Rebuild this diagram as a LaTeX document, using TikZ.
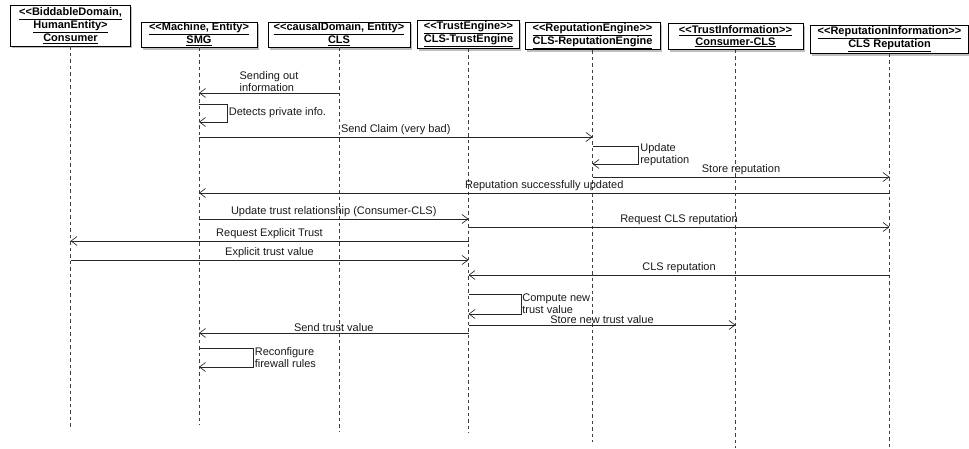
\documentclass[tikz,border=0pt]{standalone}
\usepackage{fontspec}
\setmainfont{Liberation Sans}[Ligatures=TeXOff]
\usetikzlibrary{arrows.meta,shadows}

\tikzset{
  head/.style={draw=black, line width=0.8pt, fill=white, align=center,
    font=\bfseries\fontsize{11}{11.5}\selectfont, inner sep=1pt,
    drop shadow={shadow xshift=1.5pt, shadow yshift=-2.5pt, opacity=0.5}},
  lifeline/.style={draw=black!75, line width=0.7pt, dash pattern=on 3.5pt off 3pt},
  msg/.style={draw=black!85, line width=0.65pt, -{Straight Barb[length=6pt,width=9pt]}},
  lbl/.style={font=\fontsize{11}{12}\selectfont, inner sep=1.5pt, text=black!90}
}

\begin{document}
\begin{tikzpicture}[x=1pt,y=-1pt]
\useasboundingbox (0,0) rectangle (969,449);

\node[head, minimum width=120pt, minimum height=41pt] (consumer) at (70.5,25.5)
  {\underline{<<BiddableDomain,}\\\underline{HumanEntity>}\\\underline{Consumer}};
\node[head, minimum width=116pt, minimum height=25pt] (smg) at (199,34.5)
  {\underline{<<Machine, Entity>}\\\underline{SMG}};
\node[head, minimum width=142pt, minimum height=25pt] (cls) at (339,34.5)
  {\underline{<<causalDomain, Entity>}\\\underline{CLS}};
\node[head, minimum width=102pt, minimum height=25pt] (trust) at (468.5,34.5)
  {\underline{<<TrustEngine>>}\\\underline{CLS-TrustEngine}};
\node[head, minimum width=135pt, minimum height=26pt] (repeng) at (592.5,36)
  {\underline{<<ReputationEngine>>}\\\underline{CLS-ReputationEngine}};
\node[head, minimum width=135pt, minimum height=26pt] (tinfo) at (735.5,36.5)
  {\underline{<<TrustInformation>>}\\\underline{Consumer-CLS}};
\node[head, minimum width=158pt, minimum height=26pt] (repinfo) at (889.5,39.5)
  {\underline{<<ReputationInformation>>}\\\underline{CLS Reputation}};

\draw[lifeline] (consumer.south) -- (consumer |- 0,428);
\draw[lifeline] (smg.south) -- (smg |- 0,425);
\draw[lifeline] (cls.south) -- (cls |- 0,432);
\draw[lifeline] (trust.south) -- (trust |- 0,433);
\draw[lifeline] (repeng.south) -- (repeng |- 0,442);
\draw[lifeline] (tinfo.south) -- (tinfo |- 0,448);
\draw[lifeline] (repinfo.south) -- (repinfo |- 0,448);

\draw[msg] (cls |- 0,93) -- node[lbl, above, align=left] {Sending out\\information} (smg |- 0,93);
\draw[msg] (smg |- 0,104) -- ++(28,0) -- node[lbl, right, align=left] {Detects private info.} ++(0,18) -- (smg |- 0,122);
\draw[msg] (smg |- 0,137) -- node[lbl, above] {Send Claim (very bad)} (repeng |- 0,137);
\draw[msg] (repeng |- 0,146) -- ++(46,0) -- node[lbl, right, align=left] {Update\\reputation} ++(0,18) -- (repeng |- 0,164);
\draw[msg] (repeng |- 0,177) -- node[lbl, above] {Store reputation} (repinfo |- 0,177);
\draw[msg] (repinfo |- 0,193) -- node[lbl, above] {Reputation successfully updated} (smg |- 0,193);
\draw[msg] (smg |- 0,219) -- node[lbl, above] {Update trust relationship (Consumer-CLS)} (trust |- 0,219);
\draw[msg] (trust |- 0,227) -- node[lbl, above] {Request CLS reputation} (repinfo |- 0,227);
\draw[msg] (trust |- 0,241) -- node[lbl, above] {Request Explicit Trust} (consumer |- 0,241);
\draw[msg] (consumer |- 0,260) -- node[lbl, above] {Explicit trust value} (trust |- 0,260);
\draw[msg] (repinfo |- 0,275) -- node[lbl, above] {CLS reputation} (trust |- 0,275);
\draw[msg] (trust |- 0,294) -- ++(53,0) -- node[lbl, right, align=left, inner sep=0.5pt] {Compute new\\trust value} ++(0,20) -- (trust |- 0,314);
\draw[msg] (trust |- 0,325) -- node[lbl, above] {Store new trust value} (tinfo |- 0,325);
\draw[msg] (trust |- 0,333) -- node[lbl, above] {Send trust value} (smg |- 0,333);
\draw[msg] (smg |- 0,348) -- ++(54,0) -- node[lbl, right, align=left] {Reconfigure\\firewall rules} ++(0,19) -- (smg |- 0,367);
\end{tikzpicture}
\end{document}
